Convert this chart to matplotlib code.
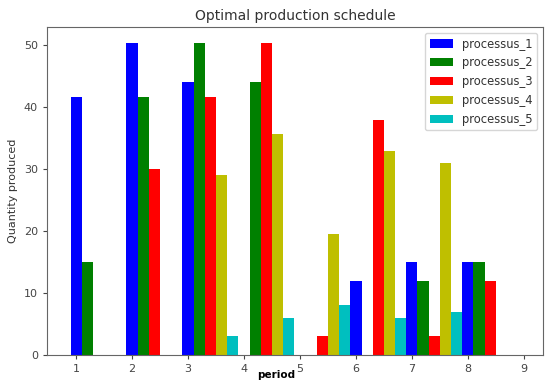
import matplotlib
matplotlib.use("Agg")
import matplotlib.pyplot as plt
import numpy as np

periods = [1, 2, 3, 4, 5, 6, 7, 8]
processes = ["processus_1", "processus_2", "processus_3", "processus_4", "processus_5"]
colors = ["b", "g", "r", "y", "c"]
p1 = [41.7, 50.4, 44.1, 0, 0, 12, 15, 15]
p2 = [15, 41.7, 50.4, 44.1, 0, 0, 12, 15]
p3 = [0, 30, 41.7, 50.4, 3.1, 38, 3.1, 12]
p4 = [0, 0, 29, 35.6, 19.5, 33, 31, 0]
p5 = [0, 0, 3.1, 6, 8, 6, 7, 0]
series = [p1, p2, p3, p4, p5]
xticks = [1, 2, 3, 4, 5, 6, 7, 8, 9]

fig = plt.figure(figsize=(5.5, 3.88), dpi=100)
ax = fig.add_axes([0.0855, 0.085, 0.9015, 0.845])
width = 0.2
x = np.array(periods, dtype=float)
for j, (vals, name, col) in enumerate(zip(series, processes, colors)):
    ax.bar(x + j * width, vals, width=width, color=col, label=name, linewidth=0)

ax.set_xlim(0.48, 9.34)
ax.set_xticks(xticks)
ax.set_title("Optimal production schedule", fontsize=10, color="#333333", pad=5)
ax.set_ylabel("Quantity produced", fontsize=8, color="#333333")
ax.set_xlabel("period", fontsize=7.5, fontweight="bold", color="black")
ax.xaxis.set_label_coords((276 - 47) / 496, -0.046)
ax.tick_params(labelsize=8, colors="#444444", length=3)
for s in ax.spines.values():
    s.set_color("#666666")
leg = ax.legend(loc="upper right", fontsize=8.3)
for t in leg.get_texts():
    t.set_color("#333333")
fig.savefig("out.png", dpi=100)
